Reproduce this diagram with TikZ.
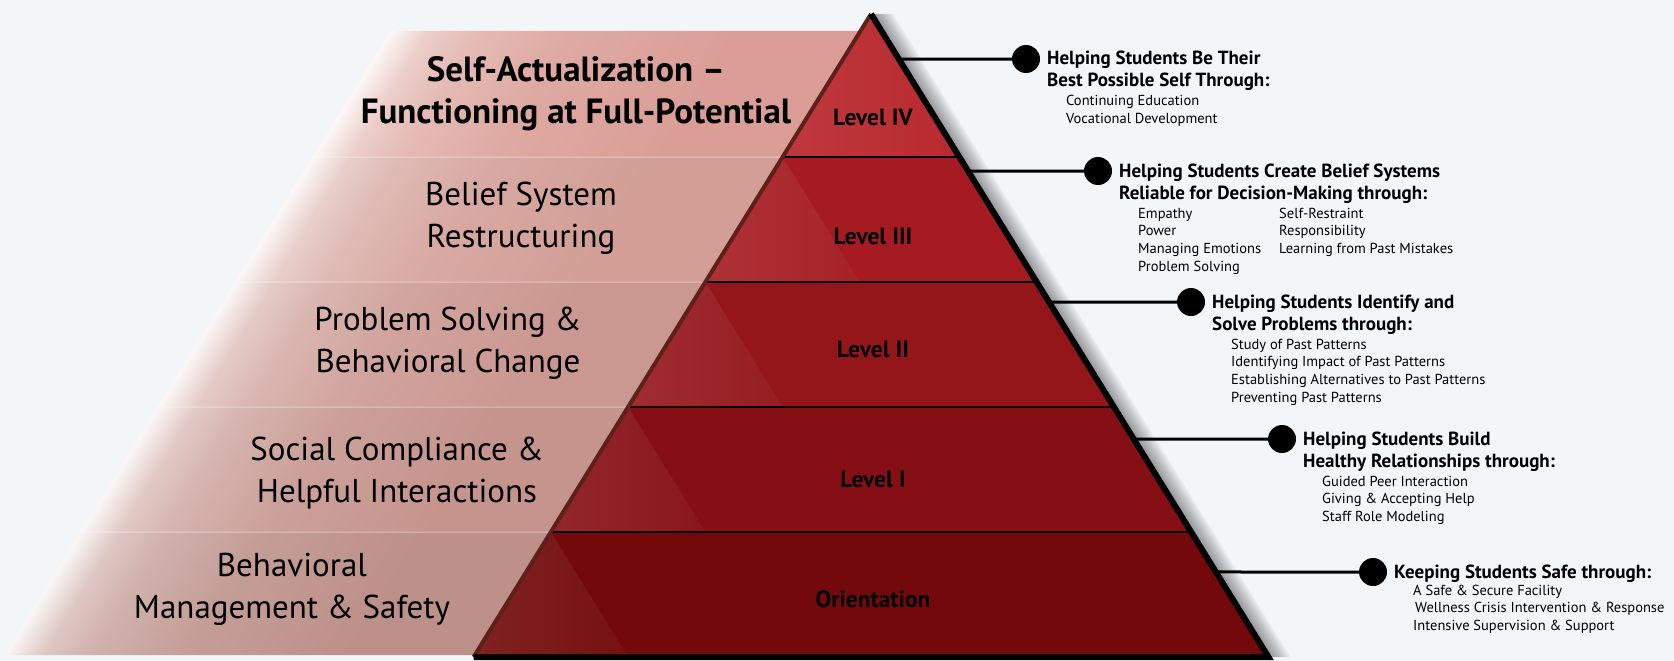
\documentclass[tikz,border=0pt]{standalone}
\usepackage{fontspec}
\setmainfont{PT Sans}
\usetikzlibrary{positioning, calc}

\definecolor{bgcol}{RGB}{242,246,249}
\definecolor{lvA}{RGB}{182,35,40}
\definecolor{lvB}{RGB}{165,27,33}
\definecolor{lvC}{RGB}{148,22,27}
\definecolor{lvD}{RGB}{134,15,21}
\definecolor{lvE}{RGB}{115,9,10}
\definecolor{pA}{RGB}{218,158,150}
\definecolor{pB}{RGB}{210,158,150}
\definecolor{pC}{RGB}{203,152,145}
\definecolor{pD}{RGB}{197,148,141}
\definecolor{pE}{RGB}{189,144,137}
\definecolor{edgebrown}{RGB}{92,33,26}

\colorlet{panelhi}{pA}
\pgfdeclarehorizontalshading[panelhi]{panelfade}{100bp}{color(0bp)=(white); color(25bp)=(white!92!panelhi); color(29bp)=(white!50!panelhi); color(34bp)=(white!30!panelhi); color(44bp)=(white!12!panelhi); color(62bp)=(panelhi); color(100bp)=(panelhi)}

\tikzset{
  head/.style={font=\fontsize{19}{22}\selectfont\bfseries, align=left, anchor=base west, inner sep=0pt},
  items/.style={font=\fontsize{14.5}{17.7}\selectfont, align=left, anchor=base west, inner sep=0pt},
  lvl/.style={font=\fontsize{23.5}{26}\selectfont\bfseries, anchor=base, inner sep=0pt},
  side/.style={font=\fontsize{33}{41.5}\selectfont, align=center, anchor=base, inner sep=0pt},
  sidebold/.style={side, font=\fontsize{35}{41.5}\selectfont\bfseries},
  dot/.style={circle, fill=black, minimum size=28pt, inner sep=0pt},
  link/.style={line width=3pt},
}

\begin{document}
\begin{tikzpicture}[x=1pt, y=-1pt]
\useasboundingbox (0,0) rectangle (1674,661);
\fill[bgcol] (0,0) rectangle (1674,661);

\begin{scope}[transform canvas={xslant=0.618}]
  \foreach \yt/\yb/\col in {31/157/pA, 157/282/pB, 282/407/pC, 407/532/pD, 532/655/pE} {
    \colorlet{panelhi}{\col}
    \shade[shading=panelfade] (409.7,\yt) rectangle (879.7,\yb);
  }
  \foreach \y in {157,282,407,532}
    \draw[white, opacity=0.4, line width=1pt] (409.7,\y) -- (879.7,\y);
\end{scope}

\coordinate (apex) at (871,14);
\coordinate (bL) at (473.6,657);
\coordinate (bR) at (1268.4,657);

\foreach \k in {2,4,...,22}
  \fill[black, opacity=0.045] (apex) -- (bR) -- ([xshift=\k pt]bR) -- ([xshift=\k pt]apex) -- cycle;

\begin{scope}
  \clip (apex) -- (bL) -- (bR) -- cycle;
  \foreach \yt/\yb/\col in {0/157/lvA, 157/282/lvB, 282/407/lvC, 407/532/lvD, 532/661/lvE}
    \fill[\col] (400,\yt) rectangle (1300,\yb);
  \foreach \yt/\yb/\col in {14/157/lvA, 157/282/lvB, 282/407/lvC, 407/532/lvD, 532/657/lvE} {
    \pgfmathsetmacro\xt{871-0.618*(\yt-14)}
    \pgfmathsetmacro\xb{871-0.618*(\yb-14)}
    \pgfmathsetmacro\xp{\xt+0.618*(\yb-\yt)}
    \shade[left color=white!10!\col, right color=white!3!\col] (\xt,\yt) -- (\xb,\yb) -- (\xp,\yb) -- cycle;
  }
  \foreach \y in {157,282,407,532}
    \draw[line width=2.5pt] (400,\y) -- (1300,\y);
\end{scope}

\draw[edgebrown, line width=4pt] (apex) -- (bL);
\draw[line width=6pt] (bL) -- (bR) -- (apex);

\node[lvl] (l4) at (873,125) {Level IV};
\node[lvl] (l3) at (873,244) {Level III};
\node[lvl] (l2) at (873,357) {Level II};
\node[lvl] (l1) at (873,487) {Level I};
\node[lvl] (l0) at (873,607) {Orientation};

\node[sidebold] (s4) at (576,123) {Self-Actualization –\\Functioning at Full-Potential};
\node[side] (s3) at (521,247) {Belief System\\Restructuring};
\node[side] (s2) at (448,372) {Problem Solving \&\\Behavioral Change};
\node[side] (s1) at (397,502) {Social Compliance \&\\Helpful Interactions};
\node[side] (s0) at (292,618) {Behavioral\\Management \& Safety};

\path (apex) -- (bR)
  coordinate[pos=0.0700] (e4) coordinate[pos=0.2442] (e3) coordinate[pos=0.4479] (e2)
  coordinate[pos=0.6610] (e1) coordinate[pos=0.8678] (e0);

\node[dot] (d4) at (1026,59) {};
\node[dot] (d3) at (1098,171) {};
\node[dot] (d2) at (1191,302) {};
\node[dot] (d1) at (1282,439) {};
\node[dot] (d0) at (1373,572) {};

\foreach \i in {0,...,4}
  \draw[link] (e\i) -- (d\i);

\node[head] (h4) at ($(d4)+(21,28)$) {Helping Students Be Their\\Best Possible Self Through:};
\node[items] (i4) at ($(h4.base west)+(19,36.7)$) {Continuing Education\\Vocational Development};

\node[head] (h3) at ($(d3)+(21,28)$) {Helping Students Create Belief Systems\\Reliable for Decision-Making through:};
\node[items] (i3a) at ($(h3.base west)+(19,72.1)$) {Empathy\\Power\\Managing Emotions\\Problem Solving};
\node[items] (i3b) at ($(h3.base west)+(160,54.4)$) {Self-Restraint\\Responsibility\\Learning from Past Mistakes};

\node[head] (h2) at ($(d2)+(21,28)$) {Helping Students Identify and\\Solve Problems through:};
\node[items] (i2) at ($(h2.base west)+(19,72.1)$) {Study of Past Patterns\\Identifying Impact of Past Patterns\\Establishing Alternatives to Past Patterns\\Preventing Past Patterns};

\node[head] (h1) at ($(d1)+(21,28)$) {Helping Students Build\\Healthy Relationships through:};
\node[items] (i1) at ($(h1.base west)+(19,54.4)$) {Guided Peer Interaction\\Giving \& Accepting Help\\Staff Role Modeling};

\node[head] (h0) at ($(d0)+(21,6)$) {Keeping Students Safe through:};
\node[items] (i0) at ($(h0.base west)+(19,52.4)$) {A Safe \& Secure Facility\\\hspace{2pt}Wellness Crisis Intervention \& Response\\Intensive Supervision \& Support};
\end{tikzpicture}
\end{document}
